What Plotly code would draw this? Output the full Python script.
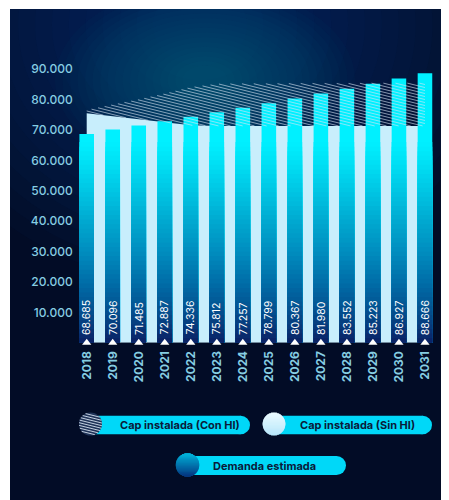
import numpy as np
import plotly.graph_objects as go

# ---------------- data ----------------
years = ['2018', '2019', '2020', '2021', '2022', '2023', '2024',
         '2025', '2026', '2027', '2028', '2029', '2030', '2031']
demanda = [68685, 70096, 71485, 72887, 74336, 75812, 77257,
           78799, 80367, 81980, 83552, 85223, 86927, 88666]
demanda_labels = ['68.685', '70.096', '71.485', '72.887', '74.336', '75.812', '77.257',
                  '78.799', '80.367', '81.980', '83.552', '85.223', '86.927', '88.666']
cap_sin_hi = [75500, 74500, 73500, 72500, 71500, 71300, 71300,
              71300, 71300, 71300, 71300, 71300, 71300, 71300]
cap_con_hi = [76500, 78300, 80000, 81900, 84000, 85100, 85200,
              85200, 85300, 85300, 85300, 85400, 85400, 85400]
y_tickvals = [10000, 20000, 30000, 40000, 50000, 60000, 70000, 80000, 90000]
y_ticktext = ['10.000', '20.000', '30.000', '40.000', '50.000',
              '60.000', '70.000', '80.000', '90.000']
legend_names = ['Cap instalada (Con HI)', 'Cap instalada (Sin HI)', 'Demanda estimada']

W, H = 449, 500
OFF = 8  # page body margin
FONT = 'Inter'
LABEL_COLOR = '#86cde2'
YMAX = 93000

xidx = np.arange(len(years))


def px_x(p):  # page pixel -> paper
    return (p - OFF) / W


def px_y(p):
    return 1 - (p - OFF) / H


def hex2rgb(h):
    h = h.lstrip('#')
    return np.array([int(h[i:i + 2], 16) for i in (0, 2, 4)], dtype=float)


def rgb2hex(c):
    return '#%02x%02x%02x' % tuple(int(round(v)) for v in c)


grad_stops = [(0, '#0a1f63'), (10000, '#044e8e'), (20000, '#006ea8'),
              (30000, '#008dbf'), (40000, '#00a9d0'), (50000, '#00c6e4'),
              (60000, '#00e2f6'), (66000, '#00f0ff')]


def grad_color(v):
    vs = [s[0] for s in grad_stops]
    cs = np.array([hex2rgb(s[1]) for s in grad_stops])
    return rgb2hex([np.interp(v, vs, cs[:, k]) for k in range(3)])


fig = go.Figure()

# light area: installed capacity without HI (main y axis, drawn below bars)
fig.add_trace(go.Scatter(x=xidx, y=cap_sin_hi, mode='lines', fill='tozeroy',
                         fillcolor='#c8eefc', line=dict(width=0, color='#c8eefc'),
                         hoverinfo='skip', showlegend=False, yaxis='y'))

# demand bars with vertical gradient (layered bars on overlay axis)
BW = 0.56
fig.add_trace(go.Bar(x=xidx, y=demanda, width=BW, marker=dict(color='#00f0ff', line=dict(width=0)),
                     hoverinfo='skip', showlegend=False, yaxis='y2'))
step = 1500
for top in range(66000, 0, -step):
    ys = [min(v, top) for v in demanda]
    fig.add_trace(go.Bar(x=xidx, y=ys, width=BW,
                         marker=dict(color=grad_color(top - step / 2), line=dict(width=0)),
                         hoverinfo='skip', showlegend=False, yaxis='y2'))

# hatch for capacity with HI (between the two capacity lines)
BASE_PX, TOP_PX = 342.7, 60.0
px_per_unit_y = (BASE_PX - TOP_PX) / YMAX
px_per_x = 26.02
slope_px = 0.25
pitch_px = 3.0
slope = slope_px * px_per_x / px_per_unit_y     # data units per x unit
pitch = pitch_px / px_per_unit_y
xs = np.linspace(0, len(years) - 1, 1400)
low = np.interp(xs, xidx, cap_sin_hi)
upp = np.interp(xs, xidx, cap_con_hi)
hx, hy = [], []
c = min(cap_sin_hi)
cmax = max(cap_con_hi) + slope * (len(years) - 1) + pitch
while c < cmax:
    yl = c - slope * xs
    m = (yl >= low) & (yl <= upp)
    if m.any():
        idx = np.where(m)[0]
        runs = np.split(idx, np.where(np.diff(idx) > 1)[0] + 1)
        for r in runs:
            if len(r) < 2:
                continue
            a, b = r[0], r[-1]
            hx += [xs[a], xs[b], None]
            hy += [yl[a], yl[b], None]
    c += pitch
fig.add_trace(go.Scatter(x=hx, y=hy, mode='lines',
                         line=dict(color='rgba(215,228,242,0.62)', width=1),
                         hoverinfo='skip', showlegend=False, yaxis='y2'))

# white markers at the base
fig.add_trace(go.Scatter(x=xidx, y=[0] * len(years), mode='markers',
                         marker=dict(symbol='triangle-up', size=8, color='white'),
                         cliponaxis=False, hoverinfo='skip', showlegend=False, yaxis='y2'))

annotations = []
for i, lab in enumerate(demanda_labels):
    annotations.append(dict(x=i, y=0, xref='x', yref='y', text=lab, textangle=-90,
                            showarrow=False, yanchor='bottom', xanchor='center', yshift=6,
                            font=dict(family=FONT, size=10.5, color='white')))

shapes = []
# background
shapes.append(dict(type='rect', xref='paper', yref='paper', x0=px_x(10), x1=1, y0=0, y1=px_y(9),
                   fillcolor='#020c26', line=dict(width=0), layer='below'))


def glow(cx, cy, rx, ry, color, n, op, fmin=0.1):
    for k in range(n):
        f = 1 - k / n * (1 - fmin)
        shapes.append(dict(type='circle', xref='paper', yref='paper',
                           x0=px_x(cx - rx * f), x1=px_x(cx + rx * f),
                           y0=px_y(cy + ry * f), y1=px_y(cy - ry * f),
                           fillcolor=color, opacity=op, line=dict(width=0), layer='below'))


glow(200, 25, 300, 260, '#0a3f82', 16, 0.055)
glow(205, 80, 150, 95, '#0b7486', 18, 0.045)
# white border
shapes.append(dict(type='rect', xref='paper', yref='paper', x0=0, x1=1, y0=px_y(9), y1=1,
                   fillcolor='white', line=dict(width=0), layer='below'))
shapes.append(dict(type='rect', xref='paper', yref='paper', x0=0, x1=px_x(10), y0=0, y1=1,
                   fillcolor='white', line=dict(width=0), layer='below'))

PILL = '#00d8f8'


def pill(x0, x1, yc, h):
    r = h / 2
    shapes.append(dict(type='rect', xref='paper', yref='paper', x0=px_x(x0), x1=px_x(x1 - r),
                       y0=px_y(yc + r), y1=px_y(yc - r), fillcolor=PILL, line=dict(width=0)))
    shapes.append(dict(type='circle', xref='paper', yref='paper', x0=px_x(x1 - 2 * r), x1=px_x(x1),
                       y0=px_y(yc + r), y1=px_y(yc - r), fillcolor=PILL, line=dict(width=0)))


def circle(cx, cy, r, color):
    shapes.append(dict(type='circle', xref='paper', yref='paper', x0=px_x(cx - r), x1=px_x(cx + r),
                       y0=px_y(cy + r), y1=px_y(cy - r), fillcolor=color, line=dict(width=0)))


def grad_circle(cx, cy, r, ctop, cbot, n=26):
    a, b = hex2rgb(ctop), hex2rgb(cbot)
    circle(cx, cy, r, rgb2hex((a + b) / 2))
    lw = 2 * r / n
    for k in range(n):
        yy = cy - r + (k + 0.5) * lw
        d = abs(yy - cy)
        if d >= r:
            continue
        hw = np.sqrt(r * r - d * d)
        col = rgb2hex(a + (b - a) * k / (n - 1))
        shapes.append(dict(type='line', xref='paper', yref='paper', x0=px_x(cx - hw), x1=px_x(cx + hw),
                           y0=px_y(yy), y1=px_y(yy), line=dict(color=col, width=lw + 0.3)))


def hatch_circle(cx, cy, r):
    circle(cx, cy, r, '#1f3358')
    nrm = np.sqrt(1 + slope_px ** 2)
    d = np.array([1, slope_px]) / nrm
    n = np.array([-slope_px, 1]) / nrm
    off = -r
    while off <= r:
        p = off
        if abs(p) < r - 0.5:
            h = np.sqrt(r * r - p * p)
            mid = np.array([cx, cy]) + p * n
            e0, e1 = mid - h * d, mid + h * d
            shapes.append(dict(type='line', xref='paper', yref='paper', x0=px_x(e0[0]), x1=px_x(e1[0]),
                               y0=px_y(e0[1]), y1=px_y(e1[1]),
                               line=dict(color='rgba(225,235,248,0.85)', width=1)))
        off += 2.6


# legend items
pill(90, 250, 425, 18.6)
hatch_circle(90.5, 424, 11.5)
pill(274, 432, 425, 18.6)
grad_circle(274, 424, 11.3, '#eefcff', '#b6e6fb')
pill(188, 346, 465.5, 19)
grad_circle(187.5, 465, 11.7, '#00b8de', '#05337e')

for name, xc, yc in [(legend_names[0], 180, 425), (legend_names[1], 357, 425),
                     (legend_names[2], 264, 465.5)]:
    annotations.append(dict(x=px_x(xc), y=px_y(yc), xref='paper', yref='paper', text=name,
                            showarrow=False, xanchor='center', yanchor='middle',
                            font=dict(family=FONT, size=11, color='#0a1a3a', weight='bold')))

x0p, x1p = 86.7 - 0.5 * px_per_x, 86.7 + 13.5 * px_per_x
fig.update_layout(
    width=W, height=H, autosize=False,
    margin=dict(l=0, r=0, t=0, b=0),
    paper_bgcolor='white', plot_bgcolor='rgba(0,0,0,0)',
    barmode='overlay', showlegend=False,
    xaxis=dict(domain=[px_x(x0p), px_x(x1p)], range=[-0.5, 13.5], tickmode='array',
               tickvals=list(xidx), ticktext=years, tickangle=-90, showgrid=False,
               zeroline=False, showline=False, ticks='', fixedrange=True, ticklabelstandoff=5,
               tickfont=dict(family=FONT, size=12, color=LABEL_COLOR, weight='bold')),
    yaxis=dict(domain=[px_y(BASE_PX), px_y(TOP_PX)], range=[0, YMAX], tickmode='array',
               tickvals=y_tickvals, ticktext=y_ticktext, showgrid=False, zeroline=False,
               showline=False, ticks='', fixedrange=True,
               tickfont=dict(family=FONT, size=12, color=LABEL_COLOR, weight=500)),
    yaxis2=dict(overlaying='y', range=[0, YMAX], visible=False, fixedrange=True),
    shapes=shapes, annotations=annotations,
)

fig.write_html('out.html', config={'displayModeBar': False})
